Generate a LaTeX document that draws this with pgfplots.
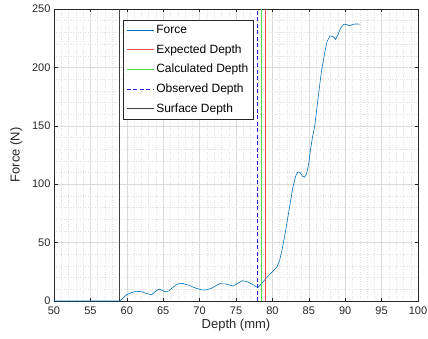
\documentclass[border=0pt]{standalone}
\usepackage{pgfplots}
\pgfplotsset{compat=1.18}
\usepackage{fontspec}
\setmainfont{Liberation Sans}
\definecolor{mblue}{rgb}{0,0.447,0.741}
\definecolor{axgray}{rgb}{0.15,0.15,0.15}
\definecolor{expred}{rgb}{0.92,0.3,0.3}
\definecolor{calcgreen}{rgb}{0.3,0.88,0.3}
\definecolor{obsblue}{rgb}{0.15,0.15,0.85}
\definecolor{surfgray}{rgb}{0.25,0.25,0.25}
\begin{document}
\begin{tikzpicture}
\useasboundingbox (0,0) rectangle (428pt,338pt);
\begin{axis}[
  at={(54pt,37pt)}, anchor=south west,
  width=364pt, height=292pt, scale only axis,
  xmin=50, xmax=100, ymin=0, ymax=250,
  xtick={50,55,...,100}, ytick={0,50,...,250},
  minor x tick num=4, minor y tick num=4,
  grid=both,
  major grid style={line width=0.4pt, draw=black!14},
  minor grid style={line width=0.4pt, draw=black!12, dotted},
  axis line style={draw=axgray, line width=0.5pt},
  tick style={draw=axgray, line width=0.5pt},
  tick align=inside,
  major tick length=3.5pt, minor tick length=0pt,
  tick label style={font=\fontsize{11}{13}\selectfont, text=axgray},
  xticklabel style={yshift=-2pt},
  /pgf/number format/assume math mode=true,
  xlabel={Depth (mm)}, ylabel={Force (N)},
  label style={font=\fontsize{13}{15}\selectfont, text=axgray},
  xlabel style={yshift=2pt},
  ylabel style={yshift=3pt},
  legend cell align=left,
  legend style={at={(rel axis cs:0.19,0.962)}, anchor=north west,
    draw=axgray, fill=white, font=\fontsize{12}{14}\selectfont,
    row sep=5.5pt, inner xsep=3pt, inner ysep=3pt},
  legend image code/.code={\draw[#1] (0cm,0cm) -- (0.95cm,0cm);},
]
\addplot[color=mblue, line width=0.6pt] coordinates {
(50,0) (59.0,0) (59.5,2.5) (60.0,5.5) (60.7,7.3) (61.3,8.3) (62.0,8.0) (62.7,6.5)
(63.4,5.2) (63.8,7.5) (64.2,9.6) (64.6,10) (65.0,8.5) (65.4,7.8) (65.8,8.8) (66.4,12)
(67.0,14.7) (67.7,15) (68.5,13.5) (69.5,10.9) (70.3,9.6) (70.8,9.4) (71.6,10.8)
(72.2,13) (72.8,14.8) (73.6,14.6) (74.2,13.5) (74.6,12.8) (75.2,15) (75.9,17.4)
(76.5,16.6) (77.2,14.5) (77.7,12.5) (78.0,11.5) (78.4,14) (78.8,17) (79.4,21.5)
(80.0,25) (80.6,29) (81.0,35) (81.3,43) (81.7,56) (82.0,67) (82.4,82) (82.8,97)
(83.2,107) (83.5,110.5) (83.8,110) (84.1,107) (84.4,106) (84.7,109) (85.0,118)
(85.2,128) (85.5,140) (85.8,149) (86.3,175) (86.7,195) (87.2,213) (87.5,222)
(87.9,227) (88.3,226.5) (88.7,224) (89.0,228) (89.35,233.5) (89.8,237) (90.2,236.8)
(90.55,235.5) (91.0,236.8) (91.45,237.2) (92.1,237)
};
\addlegendentry{Force}
\addplot[color=expred, line width=0.9pt] coordinates {(79.0,0) (79.0,250)};
\addlegendentry{Expected Depth}
\addplot[color=calcgreen, line width=0.9pt] coordinates {(78.5,0) (78.5,250)};
\addlegendentry{Calculated Depth}
\addplot[color=obsblue, line width=0.8pt, dash pattern=on 4pt off 2.5pt] coordinates {(78.0,0) (78.0,250)};
\addlegendentry{Observed Depth}
\addplot[color=surfgray, line width=0.6pt] coordinates {(59.0,0) (59.0,250)};
\addlegendentry{Surface Depth}
\end{axis}
\end{tikzpicture}
\end{document}
